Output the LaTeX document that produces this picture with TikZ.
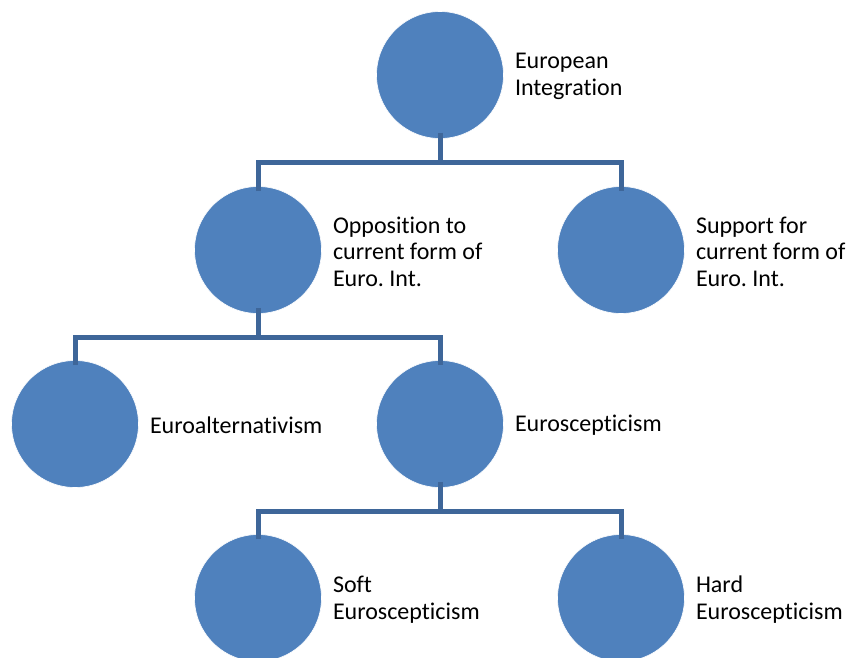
\documentclass[tikz,border=0pt]{standalone}
\usepackage{fontspec}
\setmainfont{Carlito}[Ligatures=NoCommon]
\usetikzlibrary{calc}
\definecolor{circblue}{HTML}{4F81BD}
\definecolor{lineblue}{HTML}{3E6699}
\begin{document}
\frenchspacing
\begin{tikzpicture}[x=1pt,y=-1pt,
  circ/.style={circle,fill=circblue,draw=white,line width=0.6pt,minimum size=127pt,inner sep=0pt},
  lbl/.style={anchor=west,align=left,font=\fontsize{24}{26.5}\selectfont,inner sep=0pt,text=black},
  conn/.style={draw=lineblue,line width=5pt}]
\useasboundingbox (0,0) rectangle (849,657);
\clip (0,0) rectangle (849,657);
\node[circ] (ei) at (440,75) {};
\node[circ] (opp) at (258,250) {};
\node[circ] (sup) at (621,250) {};
\node[circ] (alt) at (75,424) {};
\node[circ] (esc) at (440,424) {};
\node[circ] (soft) at (258,598) {};
\node[circ] (hard) at (621,598) {};
\node[lbl] (tei) at ([xshift=11pt,yshift=-1.5pt]ei.east) {European\\Integration};
\node[lbl] (topp) at ([xshift=11pt,yshift=-1.5pt]opp.east) {Opposition to\\current form of\\Euro. Int.};
\node[lbl] (tsup) at ([xshift=11pt,yshift=-1.5pt]sup.east) {Support for\\current form of\\Euro. Int.};
\node[lbl] (talt) at ([xshift=11pt,yshift=-1.5pt]alt.east) {Euroalternativism};
\node[lbl] (tesc) at ([xshift=11pt,yshift=-1.5pt]esc.east) {Euroscepticism};
\node[lbl] (tsoft) at ([xshift=11pt,yshift=-1.5pt]soft.east) {Soft\\Euroscepticism};
\node[lbl] (thard) at ([xshift=11pt,yshift=-1.5pt]hard.east) {Hard\\Euroscepticism};
\foreach \p/\a/\b in {ei/opp/sup, opp/alt/esc, esc/soft/hard}{
  \coordinate (m\p) at ($(\p.south)!0.5!(\a.north)$);
  \draw[conn] ([yshift=6pt]\p.south) -- (\p.south |- m\p);
  \draw[conn] ([yshift=-5pt]\a.north) -- (\a.north |- m\p) -- (\b.north |- m\p) -- ([yshift=-5pt]\b.north);
}
\end{tikzpicture}
\end{document}
